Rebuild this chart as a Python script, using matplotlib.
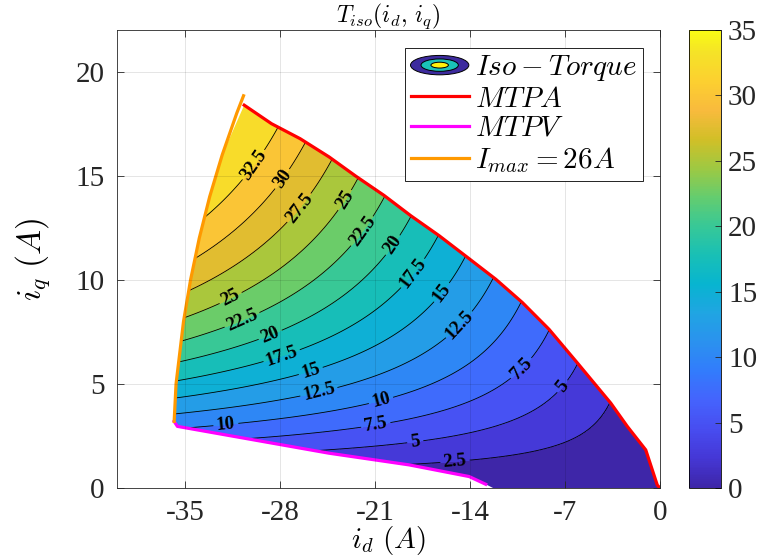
import numpy as np
import matplotlib
matplotlib.use("Agg")
from matplotlib import pyplot as plt
from matplotlib.patches import Polygon, Ellipse
from matplotlib.colors import LinearSegmentedColormap, Normalize
from matplotlib.legend_handler import HandlerBase
from matplotlib.lines import Line2D
import matplotlib.cm as cm

plt.rcParams['font.family'] = ['Liberation Serif', 'DejaVu Serif']
plt.rcParams['mathtext.fontset'] = 'cm'
plt.rcParams['axes.unicode_minus'] = False

tq_level = [32.5, 32.5, 32.5,
            30, 30, 30,
            27.5, 27.5, 27.5,
            25, 25, 25, 25,
            22.5, 22.5, 22.5, 22.5,
            20, 20, 20, 20,
            17.5, 17.5, 17.5, 17.5,
            15, 15, 15, 15,
            12.5, 12.5, 12.5, 12.5,
            10, 10, 10, 10,
            7.5, 7.5, 7.5, 7.5,
            5, 5, 5, 5,
            2.5, 2.5, 2.5]
tq_id = [-30.04, -28.62, -33.58,
         -27.83, -26.51, -34.32,
         -26.46, -24.37, -35.05,
         -23.14, -31.37, -22.41, -35.05,
         -21.80, -30.63, -20.32, -35.05,
         -19.59, -28.62, -18.36, -35.05,
         -18.11, -27.81, -16.27, -35.05,
         -15.90, -25.72, -14.19, -35.05,
         -14.68, -25.11, -12.10, -35.05,
         -20.57, -31.98, -10.14, -35.05,
         -10.38, -20.94, -8.17, -29.60,
         -7.36, -18.04, -6.09, -24.60,
         -15.10, -3.63, -18.48]
tq_iq = [15.57, 17.50, 12.76,
         14.85, 16.78, 10.83,
         13.40, 15.90, 9.50,
         13.80, 8.82, 14.98, 8.26,
         12.28, 7.86, 14.05, 7.22,
         11.63, 7.22, 13.08, 6.12,
         10.27, 6.25, 12.12, 5.21,
         9.31, 5.61, 11.08, 4.48,
         7.78, 4.57, 10.03, 3.63,
         4.24, 3.04, 8.91, 2.88,
         5.85, 3.04, 7.62, 2.43,
         4.97, 2.27, 6.01, 1.83,
         1.27, 4.08, 1.11]

# boundary curves
mtpa_id = [0, -0.2, -1.05, -2.41, -3.63, -6.09, -8.17, -10.14, -12.10, -14.19,
           -16.27, -18.36, -20.32, -22.41, -24.37, -26.51, -28.62, -30.63]
mtpa_iq = [0, 0.14, 1.83, 2.96, 4.08, 6.01, 7.62, 8.91, 10.03, 11.08,
           12.12, 13.08, 14.05, 14.98, 15.90, 16.78, 17.50, 18.39]
mtpv_id = [-35.79, -35.55, -24.37, -18.48, -14.06, -12.84]
mtpv_iq = [3.20, 2.96, 1.67, 1.11, 0.55, 0.18]
imax_id = [-35.79, -35.65, -35.10, -34.58, -33.94, -33.17, -32.25, -31.18, -30.68]
imax_iq = [3.20, 5.0, 8.0, 10.0, 12.0, 14.0, 16.0, 18.0, 18.84]

levels = np.arange(0, 37.5, 2.5)
xticks = [-35, -28, -21, -14, -7, 0]
yticks = [0, 5, 10, 15, 20]
cticks = [0, 5, 10, 15, 20, 25, 30, 35]

# where the inline labels sit
label_pos = [(-30.04, 15.57), (-27.83, 14.85), (-26.46, 13.40),
             (-23.14, 13.80), (-31.37, 8.82), (-21.80, 12.28), (-30.63, 7.86),
             (-19.59, 11.63), (-28.62, 7.22), (-18.11, 10.27), (-27.81, 6.25),
             (-15.90, 9.31), (-25.72, 5.61), (-14.68, 7.78), (-25.11, 4.57),
             (-20.57, 4.24), (-31.98, 3.04), (-10.38, 5.85), (-20.94, 3.04),
             (-7.36, 4.97), (-18.04, 2.27), (-15.10, 1.27)]

# parula (MATLAB)
parula_pts = [(0.2422, 0.1504, 0.6603), (0.2706, 0.2147, 0.8364), (0.2813, 0.3006, 0.9414),
              (0.2699, 0.3892, 0.9906), (0.1963, 0.4847, 0.9892), (0.1687, 0.5703, 0.9359),
              (0.1248, 0.6459, 0.8883), (0.0297, 0.7082, 0.8163), (0.0964, 0.7500, 0.7120),
              (0.2161, 0.7843, 0.5923), (0.3909, 0.8029, 0.4354), (0.6174, 0.7876, 0.2612),
              (0.8203, 0.7498, 0.1535), (0.9728, 0.7298, 0.2394), (0.9892, 0.8136, 0.1885),
              (0.9610, 0.8890, 0.1537), (0.9769, 0.9839, 0.0805)]
pos = [i / 63 for i in range(0, 64, 4)] + [1.0]
parula = LinearSegmentedColormap.from_list('parula', list(zip(pos, parula_pts)))


# smooth torque surface fitted to the read points: T = |id| iq exp(poly)
def basis(d, q):
    x = np.log1p(d)
    y = np.log1p(q)
    return np.stack([np.ones_like(x), x, y, x * x, x * y, y * y], axis=-1)


d = np.abs(np.array(tq_id))
q = np.array(tq_iq)
t = np.array(tq_level)
coef, *_ = np.linalg.lstsq(basis(d, q), np.log(t / (d * q)), rcond=None)

gid = np.linspace(-37, 0.5, 600)
giq = np.linspace(0, 19.5, 400)
ID, IQ = np.meshgrid(gid, giq)
D = np.abs(ID)
TQ = D * IQ * np.exp(basis(D, IQ) @ coef)
TQ = np.clip(TQ, 0, 34.99)


class IsoHandler(HandlerBase):
    def create_artists(self, legend, orig_handle, xdescent, ydescent, width, height, fontsize, trans):
        cx = width / 2 - xdescent
        cy = height / 2 - ydescent
        arts = []
        for s, c in [(1.0, (0.24, 0.17, 0.62)), (0.64, (0.1, 0.76, 0.72)), (0.3, (1.0, 0.95, 0.05))]:
            arts.append(Ellipse((cx, cy), width * s, height * 0.95 * s, facecolor=c,
                                edgecolor='k', lw=0.7, transform=trans))
        return arts


fig = plt.figure(figsize=(7.67, 5.59), dpi=100)
ax = fig.add_axes([117 / 767, 71 / 559, 543 / 767, 458 / 559])

band_colors = [parula(l / 35) for l in levels[:-1]]
cf = ax.contourf(ID, IQ, TQ, levels=levels, colors=band_colors)
cl = ax.contour(ID, IQ, TQ, levels=levels[1:-1], colors='k', linewidths=0.6)

region = np.vstack([np.column_stack([mtpa_id, mtpa_iq]),
                    np.column_stack([imax_id[::-1], imax_iq[::-1]])[2:],
                    np.column_stack([mtpv_id, mtpv_iq]),
                    [[-12.3, 0.0]]])
clip = Polygon(region, closed=True, transform=ax.transData, facecolor='none', edgecolor='none')
cf.set_clip_path(clip)
cl.set_clip_path(clip)

with plt.rc_context({'font.weight': 'bold'}):
    ax.clabel(cl, manual=label_pos, inline=True, fmt='%g', fontsize=13.5, inline_spacing=4)

ax.plot(mtpa_id, mtpa_iq, color=(1, 0, 0), lw=2.3)
ax.plot(mtpv_id, mtpv_iq, color=(1, 0, 1), lw=2.3)
ax.plot(imax_id, imax_iq, color=(1, 0.6, 0), lw=2.3)

ax.set_xlim(-40, 0)
ax.set_ylim(0, 22)
ax.set_xticks(xticks)
ax.set_yticks(yticks)
ax.tick_params(direction='in', length=5, width=0.6, top=True, right=True,
               labelsize=21, colors=(0.15, 0.15, 0.15), pad=9)
for s in ax.spines.values():
    s.set_linewidth(0.6)
    s.set_color((0.15, 0.15, 0.15))
ax.grid(True, color='k', alpha=0.12, lw=0.6)
ax.set_axisbelow(False)

fig.text(388 / 767, 1 - 31 / 559, r'$T_{iso}(i_d,\,i_q)$', fontsize=17, ha='center', va='bottom')
fig.text(388 / 767, 2 / 559, r'$i_d\ (A)$', fontsize=21, ha='center', va='bottom')
fig.text(33 / 767, 1 - 259 / 559, r'$i_q\ (A)$', fontsize=24, ha='center', va='center', rotation=90)

iso_proxy = Ellipse((0, 0), 1, 1)
handles = [iso_proxy,
           Line2D([], [], color=(1, 0, 0), lw=2.3),
           Line2D([], [], color=(1, 0, 1), lw=2.3),
           Line2D([], [], color=(1, 0.6, 0), lw=2.3)]
labels = [r'$Iso-Torque$', r'$MTPA$', r'$MTPV$', r'$I_{max}=26A$']
leg = ax.legend(handles, labels, handler_map={iso_proxy: IsoHandler()}, loc='upper right',
                fontsize=21, fancybox=False, framealpha=1, edgecolor='k',
                handlelength=2.0, labelspacing=0.1, borderpad=0.2, handletextpad=0.2,
                borderaxespad=0.6)
leg.get_frame().set_linewidth(0.6)

cax = fig.add_axes([689 / 767, 71 / 559, 32 / 767, 458 / 559])
cb = fig.colorbar(cm.ScalarMappable(norm=Normalize(0, 35), cmap=parula), cax=cax, ticks=cticks)
cax.tick_params(direction='in', length=4, width=0.6, labelsize=21, colors=(0.15, 0.15, 0.15), pad=5)
cb.outline.set_linewidth(0.6)

fig.savefig('out.png', dpi=100)
